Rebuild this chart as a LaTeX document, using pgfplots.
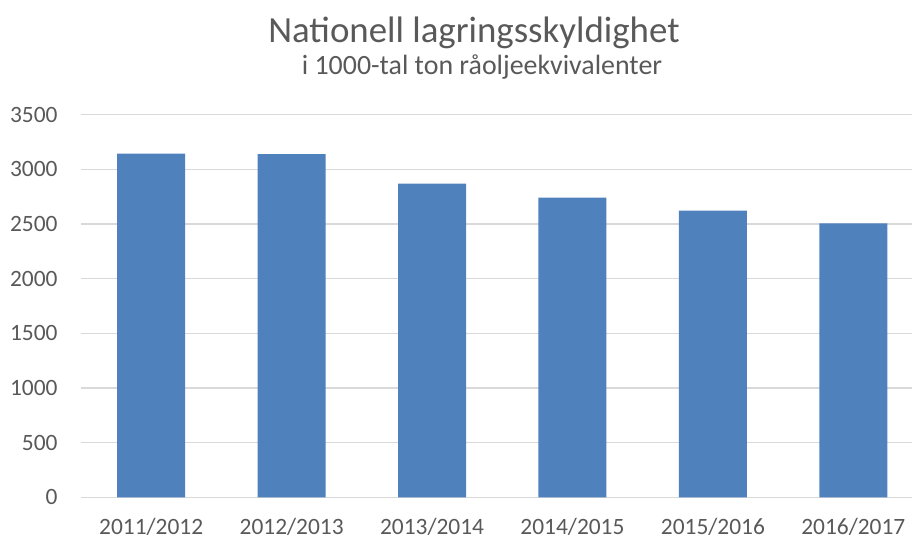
\documentclass[border=0pt]{standalone}
\usepackage{pgfplots}
\pgfplotsset{compat=1.18}
\usepackage{fontspec}
\setmainfont{Carlito}
\definecolor{barblue}{HTML}{4F81BD}
\definecolor{txtgray}{HTML}{595959}
\definecolor{gridgray}{HTML}{D9D9D9}
\begin{document}
\begin{tikzpicture}[x=1bp,y=1bp]
\useasboundingbox (0,0) rectangle (912,537);
\begin{axis}[
  at={(81bp,39.7bp)}, anchor=south west,
  scale only axis, width=831bp, height=382.6bp,
  xmin=-0.5, xmax=5.418, ymin=0, ymax=3500,
  ytick={0,500,...,3500},
  xtick={0,1,2,3,4,5},
  xticklabels={2011/2012,2012/2013,2013/2014,2014/2015,2015/2016,2016/2017},
  axis line style={draw=none}, tick style={draw=none}, major tick length=0pt,
  ymajorgrids, grid style={gridgray, line width=1.5bp},
  ybar, bar width=68bp,
  /pgf/number format/assume math mode=true,
  /pgf/number format/set thousands separator={},
  ticklabel style={font=\fontsize{23.5}{28}\selectfont, text=txtgray},
  yticklabel style={anchor=east, xshift=-20bp},
  xticklabel style={anchor=base, yshift=-37.5bp},
  clip=false,
]
\addplot[fill=barblue, draw=none] coordinates {(0,3144) (1,3140) (2,2870) (3,2742) (4,2623) (5,2505)};
\end{axis}
\node[anchor=base, text=txtgray, font=\fontsize{37}{44}\selectfont] at (474,494) {Nationell lagringsskyldighet};
\node[anchor=base, text=txtgray, font=\fontsize{28}{33}\selectfont] at (482,462) {i 1000-tal ton råoljeekvivalenter};
\end{tikzpicture}
\end{document}
